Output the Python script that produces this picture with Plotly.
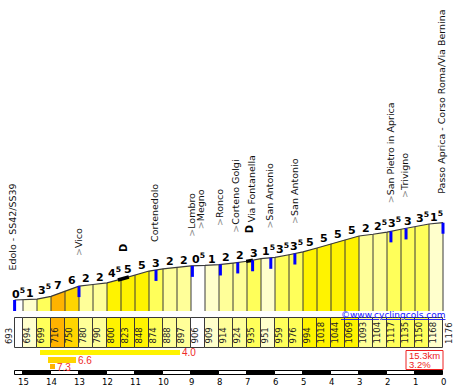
import numpy as np
import plotly.graph_objects as go

# ---------------- data ----------------
KM_POINTS = [15.3, 15.0, 14.5, 14.0, 13.5, 13.0, 12.5, 12.0, 11.5, 11.0, 10.5, 10.0,
             9.5, 9.0, 8.5, 8.0, 7.5, 7.0, 6.5, 6.0, 5.5, 5.0, 4.5, 4.0, 3.5, 3.0,
             2.5, 2.0, 1.5, 1.0, 0.5, 0.0]
ELEVATIONS = [693, 694, 699, 716, 750, 780, 790, 800, 823, 848, 874, 888, 897, 906,
              909, 914, 924, 935, 951, 959, 976, 994, 1018, 1044, 1069, 1093, 1104,
              1117, 1135, 1150, 1168, 1176]
GRADES = [0.5, 1, 3.5, 7, 6, 2, 2, 4.5, 5, 5, 3, 2, 2, 0.5, 1, 2, 2, 3, 1.5, 3.5,
          3.5, 5, 5, 5, 5, 2, 2.5, 3.5, 3, 3.5, 1.5]

PLACE_NAMES = ["Edolo - SS42/SS39", "Vico", "Cortenedolo", "Lombro", "Megno", "Ronco",
               "Corteno Golgi", "Via Fontanella", "San Antonio", "San Antonio",
               "San Pietro in Aprica", "Trivigno", "Passo Aprica - Corso Roma/Via Bernina"]
PLACE_KM = [15.3, 13.0, 10.25, 8.95, 8.62, 7.95, 7.33, 6.8, 6.15, 5.29, 1.86, 1.32, 0.0]
PLACE_SIDE_ROAD = [False, True, False, True, True, True, True, False, True, True, True, True, False]
PLACE_MARKED = [True, True, True, True, False, True, True, True, True, True, True, True, True]

TUNNEL_FROM_KM = [11.61, 7.03]
TUNNEL_TO_KM = [11.22, 6.79]

SUMMARY_FROM_KM = [14.4, 14.1, 14.05]
SUMMARY_TO_KM = [9.4, 13.1, 13.85]
SUMMARY_GRADES = [4.0, 6.6, 7.3]

KM_TICKS = [15, 14, 13, 12, 11, 10, 9, 8, 7, 6, 5, 4, 3, 2, 1, 0]
TOTAL_KM = 15.3

# ---------------- styles / layout constants ----------------
W, H = 458, 388
PX_PER_KM = 28.0
KM_AT_LEFT = 443 / PX_PER_KM
KM_AT_RIGHT = KM_AT_LEFT - W / PX_PER_KM
Y_RANGE = [143, 2568]           # metres mapped onto the full height
BASE = 624.25                   # bottom of profile columns (m)
FONT = "DejaVu Sans"
LINE_COL = "#3a3a3a"

PLACE_GAP = [28, 29, 27, 28.5, 35, 37.5, 29, 37, 28, 28.5, 27.5, 29, 28]
PLACE_XSHIFT = [-2.5, -1, -1, -1, -1, -1, -2, -1, -1, -1, -1, -1, -1]

TABLE_TOP, TABLE_H = 318, 30
SUM_ROW_TOP = [350, 357.2, 364.1]
SUM_ROW_H = 5.3
SCALE_TOP, SCALE_H = 371, 4
KM_LABEL_Y = 381.5


def grade_color(g):
    if g < 1:
        return "#FFFFFF"
    if g < 2:
        return "#FFFFCC"
    if g < 3:
        return "#FFFF99"
    if g < 4:
        return "#FFFF5A"
    if g < 6:
        return "#FFF300"
    if g < 7:
        return "#FFD500"
    return "#FFB300"


def grade_text(g):
    whole = int(g)
    if abs(g - whole) > 1e-9:
        return f"<b>{whole}<sup>5</sup></b>"
    return f"<b>{whole}</b>"


km_inc = KM_POINTS[::-1]
el_inc = ELEVATIONS[::-1]


def elev_at(k):
    return float(np.interp(k, km_inc, el_inc))


fig = go.Figure()

# profile columns
n_seg = len(GRADES)
for i in range(n_seg):
    k0, k1 = KM_POINTS[i], KM_POINTS[i + 1]
    e0, e1 = ELEVATIONS[i], ELEVATIONS[i + 1]
    fig.add_trace(go.Scatter(
        x=[k0, k0, k1, k1, k0], y=[BASE, e0, e1, BASE, BASE],
        fill="toself", fillcolor=grade_color(GRADES[i]), mode="lines",
        line=dict(width=0), hoverinfo="skip", showlegend=False))

# column separators
vx, vy = [], []
for k, e in zip(KM_POINTS, ELEVATIONS):
    vx += [k, k, None]
    vy += [BASE, e, None]
fig.add_trace(go.Scatter(x=vx, y=vy, mode="lines", line=dict(color=LINE_COL, width=1),
                         hoverinfo="skip", showlegend=False))
# profile top line
fig.add_trace(go.Scatter(x=KM_POINTS, y=ELEVATIONS, mode="lines",
                         line=dict(color=LINE_COL, width=1.2), hoverinfo="skip", showlegend=False))

# tunnels
for a, b in zip(TUNNEL_FROM_KM, TUNNEL_TO_KM):
    fig.add_trace(go.Scatter(x=[a, b], y=[elev_at(a), elev_at(b)], mode="lines",
                             line=dict(color="black", width=3.5), hoverinfo="skip",
                             showlegend=False))
    mid = (a + b) / 2
    fig.add_annotation(x=mid, y=elev_at(mid), xref="x", yref="y", text="<b>D</b>",
                       textangle=-90, showarrow=False, yanchor="middle", xanchor="center",
                       yshift=31, font=dict(family=FONT, size=10, color="black"))

# grade labels
for i in range(n_seg):
    k0, k1 = KM_POINTS[i], KM_POINTS[i + 1]
    top = max(ELEVATIONS[i], ELEVATIONS[i + 1])
    fig.add_annotation(x=(k0 + k1) / 2, y=top, xref="x", yref="y", text=grade_text(GRADES[i]),
                       showarrow=False, xanchor="center", yanchor="bottom", yshift=-2,
                       borderpad=0, font=dict(family=FONT, size=11, color="black"))

# place names + blue markers
for name, k, side, marked, gap, xs in zip(PLACE_NAMES, PLACE_KM, PLACE_SIDE_ROAD,
                                          PLACE_MARKED, PLACE_GAP, PLACE_XSHIFT):
    e = elev_at(k)
    txt = ("<span style='color:#8a8a8a'>&gt;</span>" + name) if side else name
    fig.add_annotation(x=k, y=e, xref="x", yref="y", text=txt, textangle=-90,
                       showarrow=False, xanchor="center", yanchor="bottom", yshift=gap,
                       xshift=xs, borderpad=0, font=dict(family=FONT, size=9.5, color="#111"))
    if marked:
        fig.add_shape(type="line", xref="x", yref="y", x0=k, x1=k, ysizemode="pixel",
                      yanchor=e, y0=0, y1=-11, line=dict(color="#0000FF", width=3))

# table of elevations
centers = [(KM_POINTS[i] + KM_POINTS[i + 1]) / 2 for i in range(n_seg)]
widths = [KM_POINTS[i] - KM_POINTS[i + 1] for i in range(n_seg)]
fig.add_trace(go.Bar(x=centers, y=[TABLE_H] * n_seg, base=TABLE_TOP, width=widths,
                     marker=dict(color=[grade_color(g) for g in GRADES],
                                 line=dict(color=LINE_COL, width=1)),
                     yaxis="y2", hoverinfo="skip", showlegend=False))
for j, (k, e) in enumerate(zip(KM_POINTS, ELEVATIONS)):
    xs = 3.5
    if j == 0:
        xs = -5.5
    elif j == len(KM_POINTS) - 1:
        xs = 6
    fig.add_annotation(x=k, y=345, xref="x", yref="y2", text=str(e), textangle=-90,
                       showarrow=False, xanchor="center", yanchor="bottom", xshift=xs,
                       borderpad=0, font=dict(family=FONT, size=8.5, color="#222"))

# copyright
fig.add_annotation(x=0, y=314.5, xref="x", yref="y2", text="<u>©www.cyclingcols.com</u>",
                   showarrow=False, xanchor="right", yanchor="middle", xshift=3, borderpad=0,
                   font=dict(family=FONT, size=9, color="#1414ff"))

# summary bars
for a, b, g, ytop in zip(SUMMARY_FROM_KM, SUMMARY_TO_KM, SUMMARY_GRADES, SUM_ROW_TOP):
    fig.add_trace(go.Bar(x=[(a + b) / 2], y=[SUM_ROW_H], base=ytop, width=[a - b],
                         marker=dict(color=grade_color(g), line=dict(width=0)),
                         yaxis="y2", hoverinfo="skip", showlegend=False))
    fig.add_annotation(x=b, y=ytop + SUM_ROW_H / 2 + 0.3, xref="x", yref="y2",
                       text=f"{g:.1f}", showarrow=False, xanchor="left", yanchor="middle",
                       xshift=1, borderpad=0,
                       font=dict(family="Liberation Sans", size=10, color="#EE2a2a"))

# total box
avg = (ELEVATIONS[-1] - ELEVATIONS[0]) / (TOTAL_KM * 1000) * 100
fig.add_shape(type="rect", xref="x", yref="y2", xsizemode="pixel", xanchor=0, x0=-37, x1=0,
              y0=350.5, y1=369.5, line=dict(color="#EE2222", width=1), fillcolor="white",
              layer="below")
fig.add_annotation(x=0, y=355.6, xref="x", yref="y2", text=f"{TOTAL_KM}km", showarrow=False,
                   xanchor="left", yanchor="middle", xshift=-35, borderpad=0,
                   font=dict(family="Liberation Sans", size=9.5, color="#EE2222"))
fig.add_annotation(x=0, y=364.0, xref="x", yref="y2", text=f"{avg:.1f}%", showarrow=False,
                   xanchor="left", yanchor="middle", xshift=-35, borderpad=0,
                   font=dict(family="Liberation Sans", size=9.5, color="#EE2222"))

# distance scale bar
sk0 = [TOTAL_KM] + KM_TICKS[:-1]
sk1 = KM_TICKS
scale_cols = ["black" if (k1 % 2 == 0 and k0 - k1 == 1) else "white" for k0, k1 in zip(sk0, sk1)]
fig.add_trace(go.Bar(x=[(a + b) / 2 for a, b in zip(sk0, sk1)], y=[SCALE_H] * len(sk0),
                     base=SCALE_TOP, width=[a - b for a, b in zip(sk0, sk1)],
                     marker=dict(color=scale_cols, line=dict(color="black", width=1)),
                     yaxis="y2", hoverinfo="skip", showlegend=False))
for k in KM_TICKS:
    fig.add_annotation(x=k, y=KM_LABEL_Y, xref="x", yref="y2", text=str(k), showarrow=False,
                       xanchor="center", yanchor="middle", borderpad=0,
                       font=dict(family=FONT, size=8.5, color="black"))

fig.update_layout(
    width=W, height=H, autosize=False,
    margin=dict(l=0, r=0, t=0, b=0, pad=0),
    paper_bgcolor="white", plot_bgcolor="white",
    barmode="overlay", bargap=0, showlegend=False,
    xaxis=dict(range=[KM_AT_LEFT, KM_AT_RIGHT], visible=False, domain=[0, 1]),
    yaxis=dict(range=Y_RANGE, visible=False, domain=[0, 1]),
    yaxis2=dict(range=[H, 0], visible=False, overlaying="y", anchor="x"),
)

fig.write_html("out.html", config={"displayModeBar": False},
               post_script="document.body.style.margin='0';document.body.style.overflow='hidden';")
